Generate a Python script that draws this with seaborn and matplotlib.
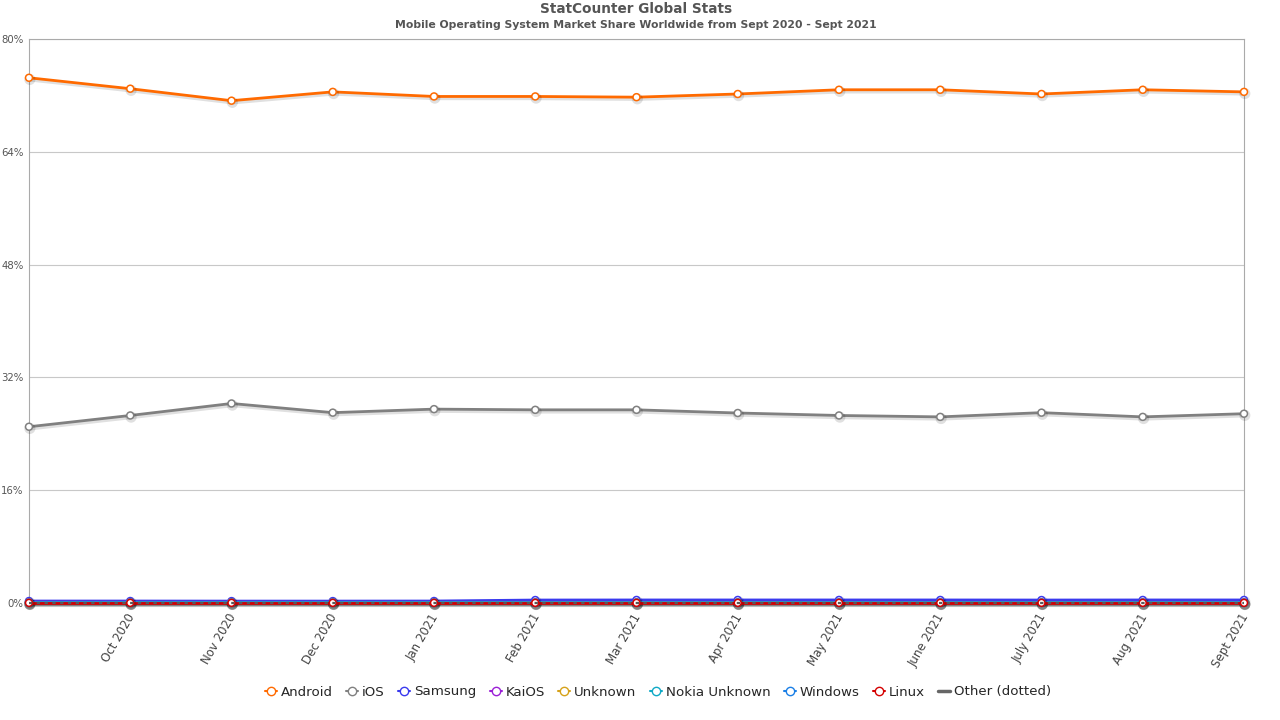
import numpy as np
import pandas as pd
import matplotlib
matplotlib.use("Agg")
import matplotlib.pyplot as plt
import matplotlib.patheffects as pe
import matplotlib.transforms as mtransforms
from matplotlib.lines import Line2D
import seaborn as sns

months = ["Sept 2020", "Oct 2020", "Nov 2020", "Dec 2020", "Jan 2021", "Feb 2021",
          "Mar 2021", "Apr 2021", "May 2021", "June 2021", "July 2021", "Aug 2021", "Sept 2021"]
android = [74.5, 72.95, 71.25, 72.5, 71.85, 71.85, 71.75, 72.2, 72.8, 72.8, 72.2, 72.8, 72.5]
ios = [25.0, 26.6, 28.3, 27.0, 27.5, 27.4, 27.4, 26.95, 26.6, 26.4, 27.0, 26.4, 26.85]
samsung = [0.28, 0.28, 0.27, 0.27, 0.28, 0.42, 0.43, 0.43, 0.43, 0.43, 0.42, 0.43, 0.43]
kaios = [0.12, 0.11, 0.11, 0.1, 0.1, 0.1, 0.1, 0.1, 0.1, 0.1, 0.1, 0.1, 0.1]
unknown = [0.08, 0.07, 0.07, 0.07, 0.07, 0.07, 0.07, 0.07, 0.06, 0.06, 0.06, 0.06, 0.06]
nokia = [0.05, 0.05, 0.05, 0.05, 0.05, 0.04, 0.04, 0.04, 0.04, 0.04, 0.04, 0.04, 0.04]
windows = [0.03, 0.03, 0.03, 0.03, 0.02, 0.02, 0.02, 0.02, 0.02, 0.02, 0.02, 0.02, 0.02]
linux = [0.02, 0.02, 0.02, 0.02, 0.02, 0.02, 0.02, 0.02, 0.02, 0.02, 0.02, 0.02, 0.02]
other = [0.01, 0.01, 0.01, 0.01, 0.01, 0.01, 0.01, 0.01, 0.01, 0.01, 0.01, 0.01, 0.01]

series_names = ["Android", "iOS", "Samsung", "KaiOS", "Unknown", "Nokia Unknown", "Windows", "Linux"]
series_vals = [android, ios, samsung, kaios, unknown, nokia, windows, linux]
colors = ["#ff6a00", "#808080", "#3a3aee", "#9b1fd6", "#d6a21a", "#10a9c6", "#1a7fe6", "#d40000"]
palette = dict(zip(series_names, colors))

rows = []
for name, vals in zip(series_names, series_vals):
    for i, v in enumerate(vals):
        rows.append({"month": i, "label": months[i], "os": name, "share": v})
df = pd.DataFrame(rows)
df_other = pd.DataFrame({"month": range(len(months)), "share": other})

sns.set_theme(style="white")
plt.rcParams["font.family"] = ["DejaVu Sans"]

fig = plt.figure(figsize=(12.8, 7.2), dpi=100)
ax = fig.add_axes([29 / 1280, 1 - 603 / 720, (1244 - 29) / 1280, (603 - 39) / 720])

shadow = [pe.SimpleLineShadow(offset=(0.6, -1.2), shadow_color="#000000", alpha=0.12, linewidth=3), pe.Normal()]

sns.lineplot(data=df, x="month", y="share", hue="os", hue_order=series_names, palette=palette,
             marker="o", legend=False, ax=ax, zorder=3)
for ln in ax.get_lines():
    ln.set_linewidth(2)
    ln.set_marker("o")
    ln.set_markersize(5)
    ln.set_markerfacecolor("white")
    ln.set_markeredgewidth(1.1)
    ln.set_markeredgecolor(ln.get_color())
    ln.set_path_effects(shadow)
    ln.set_clip_on(False)

sns.lineplot(data=df_other, x="month", y="share", color="#5a5a5a", linewidth=1.6,
             linestyle=(0, (1.5, 2)), ax=ax, zorder=4, legend=False)
ax.get_lines()[-1].set_clip_on(False)

ax.set_xlim(0, len(months) - 1)
ax.set_ylim(0, 80)
yt = [0, 16, 32, 48, 64, 80]
ax.set_yticks(yt)
ax.set_yticklabels([f"{t}%" for t in yt], fontsize=7.3, color="#555555")
ax.tick_params(axis="y", length=0, pad=4)
ax.set_xticks(range(1, len(months)))
ax.set_xticklabels(months[1:], rotation=60, ha="right", rotation_mode="anchor",
                   fontsize=8.5, color="#444444")
ax.tick_params(axis="x", length=0, pad=6)
off = mtransforms.ScaledTranslation(-4 / 100, 0, fig.dpi_scale_trans)
for lab in ax.get_xticklabels():
    lab.set_transform(lab.get_transform() + off)
ax.set_xlabel("")
ax.set_ylabel("")
ax.yaxis.grid(True, color="#c8c8c8", linewidth=0.8)
ax.set_axisbelow(True)
for s in ["left", "right", "top"]:
    ax.spines[s].set_color("#aaaaaa")
    ax.spines[s].set_linewidth(0.8)
ax.spines["bottom"].set_visible(False)

fig.text(0.497, 1 - 9 / 720, "StatCounter Global Stats", ha="center", va="center",
         fontsize=9.8, fontweight="bold", color="#555555")
fig.text(0.497, 1 - 25 / 720, "Mobile Operating System Market Share Worldwide from Sept 2020 - Sept 2021",
         ha="center", va="center", fontsize=7.8, fontweight="bold", color="#555555")

handles = [Line2D([0], [0], color=c, marker="o", markerfacecolor="white", markeredgecolor=c,
                  markersize=6, linewidth=1.5) for c in colors]
handles.append(Line2D([0], [0], color="#666666", linewidth=2.5))
labels = series_names + ["Other (dotted)"]
fig.legend(handles, labels, loc="center", bbox_to_anchor=(658 / 1280, 1 - 692 / 720), ncol=9,
           frameon=False, fontsize=9.6, handlelength=0.9, handletextpad=0.3, columnspacing=1.0)

fig.savefig("out.png", dpi=100)
